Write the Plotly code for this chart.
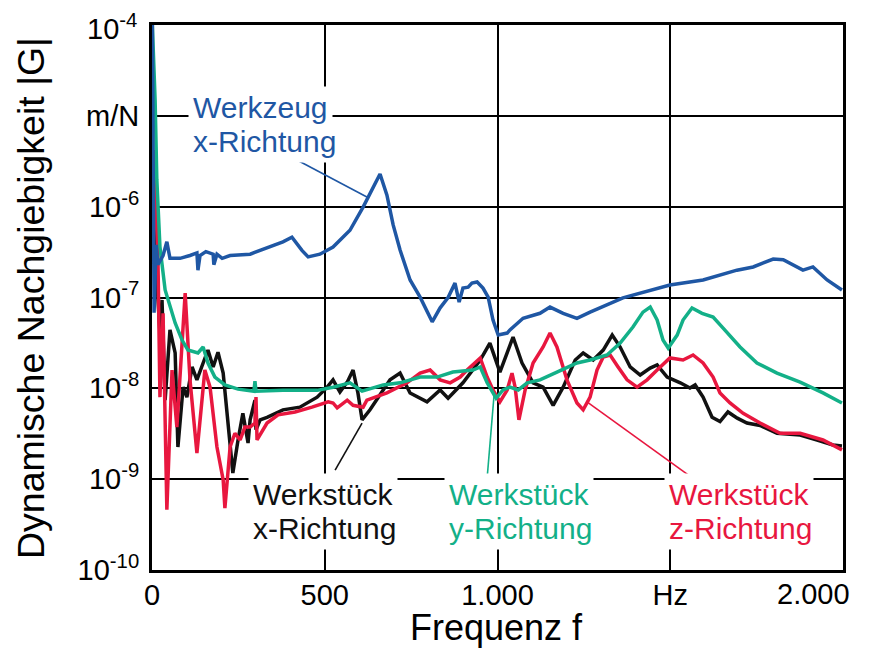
import plotly.graph_objects as go

# ---------------- data ----------------
# Werkzeug x-Richtung (blue)
f_wz_x = [1, 3, 6, 12, 17, 32, 43, 52, 81, 110, 130, 133, 139, 156, 177, 179, 188, 203, 226, 284,
          333, 379, 405, 434, 452, 486, 524, 573, 611, 640, 660, 680, 698, 718, 747, 776, 811, 834, 857, 877,
          889, 900, 915, 926, 941, 958, 973, 987, 1002, 1028, 1036, 1074, 1123, 1152, 1190, 1230, 1268, 1363, 1462, 1499,
          1595, 1693, 1740, 1798, 1827, 1884, 1913, 1954, 1997]
g_wz_x = [1e-4, 4.2e-6, 6.8e-8, 3.8e-7, 2.3e-7, 2.9e-7, 4.1e-7, 2.7e-7, 2.7e-7, 2.9e-7,
          3.1e-7, 2.0e-7, 2.9e-7, 3.2e-7, 3.0e-7, 2.3e-7, 3.0e-7, 2.7e-7, 2.9e-7, 3.0e-7,
          3.5e-7, 4.1e-7, 4.6e-7, 3.3e-7, 2.8e-7, 3.0e-7, 3.6e-7, 5.5e-7, 9.9e-7, 1.64e-6,
          2.29e-6, 1.34e-6, 6.3e-7, 3.33e-7, 1.56e-7, 1.01e-7, 5.4e-8, 7.7e-8, 1.0e-7, 1.44e-7,
          8.9e-8, 1.27e-7, 1.3e-7, 1.44e-7, 1.48e-7, 1.27e-7, 1.01e-7, 5.65e-8, 3.86e-8, 4.06e-8,
          4.4e-8, 5.9e-8, 6.7e-8, 7.85e-8, 6.7e-8, 5.9e-8, 6.9e-8, 9.9e-8, 1.27e-7, 1.37e-7,
          1.56e-7, 2.0e-7, 2.17e-7, 2.65e-7, 2.6e-7, 2.0e-7, 2.17e-7, 1.56e-7, 1.21e-7]

# Werkstück y-Richtung (green)
f_ws_y = [1, 9, 14, 23, 38, 52, 67, 87, 104, 133, 148, 162, 182, 211, 249, 295, 298, 301, 379, 478,
          524, 573, 593, 608, 669, 718, 776, 825, 871, 929, 950, 970, 996, 1016, 1036, 1060, 1086, 1123, 1172, 1230,
          1268, 1317, 1355, 1392, 1421, 1442, 1462, 1479, 1494, 1520, 1537, 1563, 1592, 1624, 1653, 1702, 1751, 1809,
          1876, 1942, 1997]
g_ws_y = [1e-4, 1.49e-5, 1.97e-6, 3.6e-7, 1.21e-7, 7.85e-8, 5.24e-8, 3.4e-8, 2.64e-8, 2.45e-8,
          2.85e-8, 1.9e-8, 1.33e-8, 1.09e-8, 9.8e-9, 9.3e-9, 1.2e-8, 9.3e-9, 9.5e-9, 9.5e-9,
          1.03e-8, 1.15e-8, 1.03e-8, 9.3e-9, 1.09e-8, 1.15e-8, 1.33e-8, 1.33e-8, 1.51e-8, 1.59e-8,
          1.72e-8, 1.15e-8, 7.8e-9, 9.6e-9, 1.03e-8, 9.6e-9, 1.15e-8, 1.24e-8, 1.51e-8, 1.9e-8,
          2.05e-8, 2.33e-8, 3.15e-8, 4.73e-8, 6.9e-8, 7.85e-8, 5.65e-8, 3.4e-8, 2.78e-8, 3.86e-8,
          5.65e-8, 7.65e-8, 6.7e-8, 6.1e-8, 4.6e-8, 2.85e-8, 1.9e-8, 1.47e-8, 1.17e-8, 8.9e-9,
          6.9e-9]

# Werkstück x-Richtung (black)
f_ws_x = [3, 14, 23, 29, 38, 52, 67, 75, 90, 101, 116, 130, 148, 162, 177, 191, 206, 220, 234, 249,
          263, 278, 284, 298, 301, 313, 333, 379, 428, 478, 507, 524, 544, 565, 582, 596, 608, 631, 669, 689,
          718, 747, 796, 834, 857, 900, 950, 978, 1007, 1045, 1071, 1103, 1132, 1161, 1190, 1225, 1248, 1277, 1306, 1332,
          1355, 1384, 1413, 1442, 1462, 1491, 1529, 1557, 1572, 1595, 1621, 1644, 1667, 1694, 1722, 1760, 1809, 1876,
          1925, 1971, 1997]
g_ws_x = [4.2e-6, 1.56e-7, 4.1e-8, 9.4e-8, 7.4e-9, 4.4e-8, 2.45e-8, 2.26e-9, 1.03e-8, 8.0e-9,
          1.72e-8, 1.24e-8, 1.9e-8, 2.64e-8, 1.72e-8, 2.5e-8, 1.47e-8, 4.5e-9, 1.17e-9, 2.7e-9,
          5.3e-9, 2.5e-9, 4.5e-9, 7.4e-9, 3.5e-9, 4.5e-9, 4.8e-9, 5.8e-9, 6.2e-9, 8.0e-9,
          1.03e-8, 1.24e-8, 9.1e-9, 1.17e-8, 1.59e-8, 8.9e-9, 4.5e-9, 5.8e-9, 9.6e-9, 1.24e-8,
          1.47e-8, 8.9e-9, 7.1e-9, 9.6e-9, 7.8e-9, 1.15e-8, 2.05e-8, 3.15e-8, 1.51e-8, 3.67e-8,
          1.9e-8, 1.15e-8, 1.03e-8, 6.5e-9, 1.03e-8, 2.05e-8, 2.45e-8, 2.05e-8, 2.64e-8, 3.86e-8,
          2.85e-8, 1.72e-8, 1.4e-8, 1.67e-8, 1.81e-8, 1.33e-8, 1.15e-8, 1.01e-8, 1.09e-8, 8.0e-9,
          4.8e-9, 4.3e-9, 5.5e-9, 4.7e-9, 4.15e-9, 3.9e-9, 3.2e-9, 3.06e-9, 2.7e-9, 2.38e-9,
          2.32e-9]

# Werkstück z-Richtung (red)
f_ws_z = [3, 17, 23, 32, 43, 58, 72, 96, 110, 130, 153, 168, 188, 206, 211, 226, 240, 255, 269, 284,
          298, 301, 304, 333, 365, 414, 463, 510, 524, 536, 565, 582, 611, 622, 680, 738, 776, 805, 834, 863,
          892, 912, 950, 970, 987, 1007, 1028, 1042, 1051, 1062, 1080, 1103, 1132, 1152, 1172, 1201, 1230, 1248, 1268, 1288,
          1306, 1326, 1349, 1375, 1404, 1433, 1462, 1499, 1537, 1566, 1595, 1624, 1644, 1673, 1711, 1760, 1818, 1876,
          1942, 1997]
g_ws_z = [4.2e-6, 3.1e-7, 8.0e-9, 6.7e-8, 4.6e-10, 1.59e-8, 3.75e-9, 1.12e-7, 1.24e-8, 1.94e-9,
          1.59e-8, 1.03e-8, 2.26e-9, 9.8e-10, 4.8e-10, 2.26e-9, 3.2e-9, 2.7e-9, 3.75e-9, 3.75e-9,
          4.15e-9, 8.0e-9, 2.7e-9, 4.15e-9, 5.1e-9, 5.5e-9, 6.2e-9, 7.1e-9, 6.9e-9, 6.1e-9,
          7.4e-9, 6.5e-9, 6.2e-9, 7.4e-9, 8.9e-9, 1.15e-8, 1.47e-8, 1.59e-8, 1.24e-8, 1.15e-8,
          1.33e-8, 1.59e-8, 2.16e-8, 1.33e-8, 9.6e-9, 7.1e-9, 9.6e-9, 1.47e-8, 1.03e-8, 4.5e-9,
          9.6e-9, 1.9e-8, 2.85e-8, 4.06e-8, 2.85e-8, 1.24e-8, 6.9e-9, 5.8e-9, 8.0e-9, 1.59e-8,
          2.21e-8, 2.33e-8, 1.72e-8, 1.24e-8, 1.03e-8, 1.24e-8, 1.59e-8, 2.16e-8, 2.05e-8, 2.33e-8,
          1.9e-8, 1.33e-8, 8.9e-9, 6.9e-9, 5.3e-9, 4.15e-9, 3.2e-9, 3.2e-9, 2.7e-9, 2.1e-9]

# tick labels
x_tickvals = [0, 500, 1000, 1500, 2000]
x_ticktext = ["0", "500", "1.000", "Hz", ""]          # "2.000" drawn separately (kept inside picture)
y_tickvals = [1e-4, 1e-5, 1e-6, 1e-7, 1e-8, 1e-9, 1e-10]
y_ticktext = ["", "m/N", "10<sup>-6</sup>", "10<sup>-7</sup>",
              "10<sup>-8</sup>", "10<sup>-9</sup>", "10<sup>-10</sup>"]  # "10^-4" drawn separately

# leader lines: (label end point, curve point) in (Hz, m/N)
lead_wz_x = ([414, 622], [3.35e-6, 1.28e-6])
lead_ws_x = ([530, 608], [1.26e-9, 4.15e-9])
lead_ws_y = ([970, 990], [1.03e-9, 8.4e-9])
lead_ws_z = ([1572, 1259], [9.8e-10, 7.1e-9])

# ---------------- styling ----------------
BLUE = "#1f57a4"
GREEN = "#13b088"
RED = "#e8173f"
BLACK = "#111111"
FONT = "Liberation Sans, Arial, sans-serif"

OFF = 8                      # page margin of the html body
W, H = 869 - OFF, 652 - OFF  # figure size
PL, PR, PT, PB = 152, 843, 25, 570   # plot area on the page
L, R, T, B = PL - OFF, W - (PR - OFF), PT - OFF, H - (PB - OFF)
PW, PH = W - L - R, H - T - B


def px(xp):
    """page pixel x -> paper coordinate"""
    return (xp - PL) / PW


def py(yp):
    """page pixel y -> paper coordinate"""
    return (PB - yp) / PH


fig = go.Figure()
for fx, gy, col in [(f_ws_x, g_ws_x, BLACK), (f_ws_z, g_ws_z, RED),
                    (f_ws_y, g_ws_y, GREEN), (f_wz_x, g_wz_x, BLUE)]:
    fig.add_trace(go.Scatter(x=fx, y=gy, mode="lines",
                             line=dict(color=col, width=3.5), showlegend=False,
                             hoverinfo="skip"))

for (lx, ly), col in [(lead_wz_x, BLUE), (lead_ws_x, BLACK), (lead_ws_y, GREEN), (lead_ws_z, RED)]:
    fig.add_trace(go.Scatter(x=lx, y=ly, mode="lines", line=dict(color=col, width=1.6),
                             showlegend=False, hoverinfo="skip", cliponaxis=False))

annotations = []
LBL = 30


def label(lines, col, xl, base1, step=34):
    # second line first, so the first line's descenders stay visible
    for i in reversed(range(len(lines))):
        yc = base1 + i * step - 9   # visual centre of the line
        annotations.append(dict(text=lines[i], xref="paper", yref="paper", x=px(xl - 4), y=py(yc),
                                xanchor="left", yanchor="middle", align="left", showarrow=False,
                                font=dict(family=FONT, size=LBL, color=col),
                                bgcolor="white", borderpad=4))


label(["Werkzeug", "x-Richtung"], BLUE, 192, 117)
label(["Werkstück", "x-Richtung"], BLACK, 252, 503)
label(["Werkstück", "y-Richtung"], GREEN, 448, 503)
label(["Werkstück", "z-Richtung"], RED, 668, 503)

# axis titles
annotations.append(dict(text="Dynamische Nachgiebigkeit |G|", xref="paper", yref="paper",
                        x=px(31), y=py(298), xanchor="center", yanchor="middle",
                        textangle=-90, showarrow=False,
                        font=dict(family=FONT, size=37.5, color="black")))
annotations.append(dict(text="Frequenz f", xref="paper", yref="paper",
                        x=px(496), y=py(628), xanchor="center", yanchor="middle",
                        showarrow=False, font=dict(family=FONT, size=36, color="black")))
# outer tick labels, kept inside the picture as in the reference
annotations.append(dict(text="2.000", xref="paper", yref="paper",
                        x=px(852), y=py(594), xanchor="right", yanchor="middle",
                        showarrow=False, font=dict(family=FONT, size=29, color="black")))
annotations.append(dict(text="10<sup>-4</sup>", xref="paper", yref="paper",
                        x=px(139), y=py(27), xanchor="right", yanchor="middle",
                        showarrow=False, font=dict(family=FONT, size=29, color="black")))

fig.update_layout(
    width=W, height=H,
    margin=dict(l=L, r=R, t=T, b=B, autoexpand=False),
    paper_bgcolor="white", plot_bgcolor="white",
    font=dict(family=FONT, color="black"),
    annotations=annotations,
)
fig.update_xaxes(range=[0, 2000], tickvals=x_tickvals, ticktext=x_ticktext,
                 showgrid=True, gridcolor="black", gridwidth=2,
                 showline=True, linecolor="black", linewidth=3, mirror=True,
                 ticks="", tickfont=dict(family=FONT, size=29, color="black"),
                 ticklabelstandoff=-3, ticklabeloverflow="allow", zeroline=False)
fig.update_yaxes(type="log", range=[-10, -4], tickvals=y_tickvals, ticktext=y_ticktext,
                 showgrid=True, gridcolor="black", gridwidth=2,
                 showline=True, linecolor="black", linewidth=3, mirror=True,
                 ticks="", tickfont=dict(family=FONT, size=29, color="black"),
                 ticklabelstandoff=4, ticklabeloverflow="allow", zeroline=False)

fig.write_html("out.html")
